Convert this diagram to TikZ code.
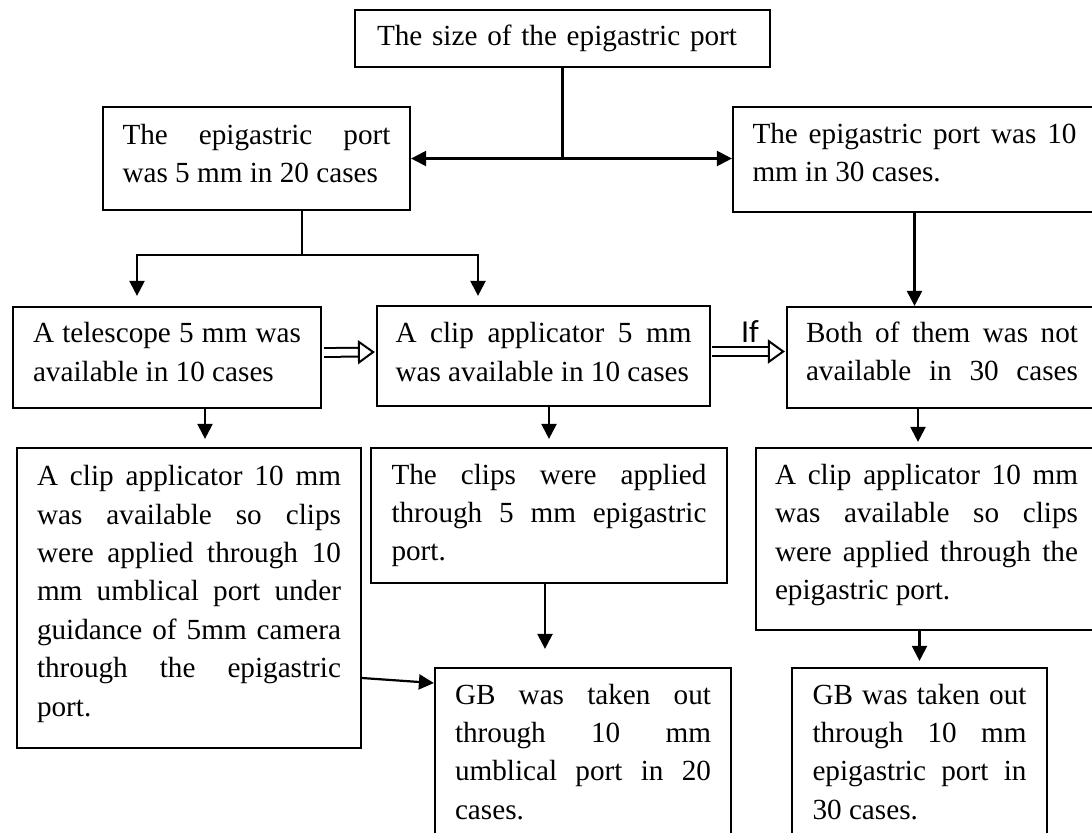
\documentclass[tikz,border=0pt]{standalone}
\usepackage{fontspec}
\setmainfont{Liberation Serif}
\newfontfamily\iffont{Carlito}
\usetikzlibrary{arrows.meta, positioning, calc}
\tikzset{
  stepbox/.style={draw, line width=1.1pt, align=justify, inner xsep=0pt, inner ysep=0pt,
    font=\fontsize{14.6}{19.2}\selectfont},
  lift/.style={execute at end node={\rule[-#1]{0pt}{0pt}}},
  plain/.style={line width=1.1pt},
  arr/.style={line width=1.1pt, -{Triangle[width=7.5pt,length=7.5pt]}},
  hollow/.style={double, double distance=3.4pt, line width=1pt,
    -{Triangle[open, fill=white, width=12pt, length=8.5pt]}}
}

\begin{document}
\begin{tikzpicture}[x=0.5pt, y=-0.5pt]
    \useasboundingbox (0,0) rectangle (1092,832);

    \node[stepbox, align=left, minimum width=207.5pt, minimum height=28.5pt, text width=185.5pt] (size) at (562.5,38.5)
        {The size of the epigastric port};

    \node[stepbox, lift=5pt, minimum width=153.5pt, minimum height=51.5pt, text width=134pt] (port5) at (256.5,158.5)
        {The epigastric port\linebreak was 5 mm in 20 cases};
    \node[stepbox, lift=7pt, minimum width=181.5pt, minimum height=52.5pt, text width=162pt] (port10) at (914.5,159.5)
        {The epigastric port was 10\linebreak mm in 30 cases.};

    \node[stepbox, lift=5.5pt, minimum width=154pt, minimum height=50.5pt, text width=134pt] (tele) at (167,357.5)
        {A telescope 5 mm was\linebreak available in 10 cases};
    \node[stepbox, lift=4pt, minimum width=166.5pt, minimum height=50pt, text width=148pt] (clip5) at (543.5,356)
        {A clip applicator 5 mm\linebreak was available in 10 cases};
    \node[stepbox, lift=6pt, minimum width=155pt, minimum height=50.5pt, text width=136pt] (both) at (942,357.5)
        {Both of them was not\linebreak available\hfill in\hfill 30\hfill cases};

    \node[stepbox, lift=7.2pt, minimum width=172pt, minimum height=150pt, text width=152pt] (camera) at (189,598)
        {A clip applicator 10 mm\linebreak was available so clips\linebreak were applied through 10\linebreak
         mm umblical port under\linebreak guidance of 5mm camera\linebreak through the epigastric\linebreak port.};
    \node[stepbox, minimum width=178pt, minimum height=67.5pt, text width=157.5pt] (viaepi) at (549,515.5)
        {The clips were applied\linebreak through 5 mm epigastric\linebreak port.};
    \node[stepbox, lift=7.2pt, minimum width=170.5pt, minimum height=91pt, text width=151.5pt] (clip10) at (926.5,539)
        {A clip applicator 10 mm\linebreak was available so clips\linebreak were applied through the\linebreak epigastric port.};

    \node[stepbox, lift=5pt, minimum width=148pt, minimum height=88.5pt, text width=128pt] (gbumb) at (583,756.5)
        {GB was taken out\linebreak through 10 mm\linebreak umblical port in 20\linebreak cases.};
    \node[stepbox, lift=5pt, minimum width=127.5pt, minimum height=88.5pt, text width=107pt] (gbepi) at (919.5,756.5)
        {GB was taken out\linebreak through 10 mm\linebreak epigastric port in\linebreak 30 cases.};

    \coordinate (hub) at (size.south |- port5.east);
    \draw[plain] (size) -- (hub);
    \draw[arr] (hub) -- (port5);
    \draw[arr] (hub) -- (hub -| port10.west);

    \coordinate (fork) at (302,255);
    \draw[plain] (port5.south -| fork) -- (fork);
    \draw[arr] (fork) -| ($(tele.north)+(-30,-10)$);
    \draw[arr] (fork) -| ($(clip5.north)+(-65.5,-9)$);
    \draw[arr] (port10.south) -- (port10.south |- both.north);

    \draw[hollow] ($(tele.east)+(2,-5)$) -- ($(clip5.west)+(-1,-4)$);
    \draw[hollow] ($(clip5.east)+(1,-4.5)$) -- ($(both.west)+(-1,-6)$)
        node[pos=0.52, above=4pt, inner sep=0pt, font=\iffont\fontsize{16}{18}\selectfont] {If};

    \draw[arr] ($(tele.south)+(38,0)$) -- ($(camera.north)+(16,-8)$);
    \draw[arr] (viaepi.north |- clip5.south) -- ($(viaepi.north)+(0,-8)$);
    \draw[arr] ($(both.south)+(-24,0)$) -- ($(clip10.north)+(-8.5,-5)$);

    \draw[arr] ($(viaepi.south)+(-4,0)$) -- ($(gbumb.north)+(-38,-18)$);
    \draw[arr] (gbepi.north |- clip10.south) -- ($(gbepi.north)+(0,-6)$);
    \draw[arr] ($(camera.east)+(0,80)$) -- ($(gbumb.west)+(0,-73.5)$);
\end{tikzpicture}
\end{document}
